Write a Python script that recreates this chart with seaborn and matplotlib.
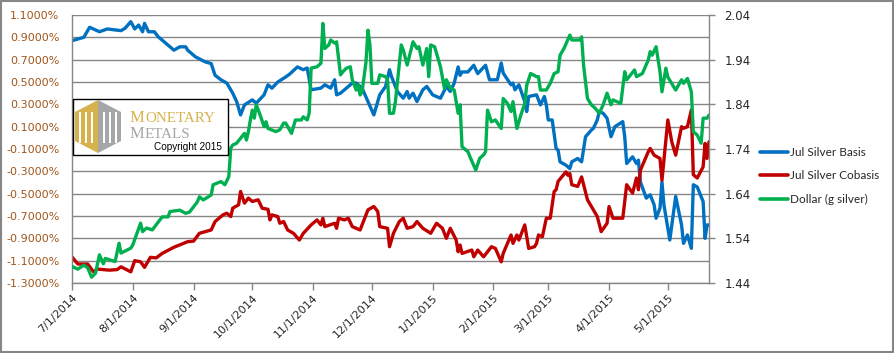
import numpy as np
import pandas as pd
import matplotlib
matplotlib.use("Agg")
import matplotlib.pyplot as plt
import matplotlib.dates as mdates
from matplotlib.ticker import FuncFormatter
from matplotlib.patches import Polygon, Rectangle
from matplotlib.lines import Line2D
import seaborn as sns

# ── Data (days counted from 7/1/2014) ───────────────────────────
START = pd.Timestamp("2014-07-01")
END = pd.Timestamp("2015-05-22")

basis_day = [0, 6, 9, 14, 18, 25, 27, 30, 32, 34, 36, 37, 39, 42, 44, 48, 52, 55, 58, 59,
             63, 68, 71, 73, 76, 79, 82, 84, 86, 88, 92, 94, 98, 100, 102, 105, 109, 111, 115, 118,
             120, 122, 127, 129, 132, 134, 135, 137, 140, 143, 145, 148, 151, 154, 157, 160, 162, 163, 166, 169,
             171, 172, 174, 176, 179, 181, 184, 188, 191, 193, 195, 197, 198, 199, 202, 205, 207, 211, 213, 217,
             219, 220, 224, 225, 226, 228, 231, 232, 233, 237, 239, 241, 242, 243, 245, 247, 248, 249, 252, 254,
             255, 258, 260, 262, 265, 266, 268, 269, 271, 273, 275, 277, 281, 282, 283, 286, 288, 289, 290, 293,
             295, 297, 298, 300, 301, 302, 305, 308, 311, 312, 314, 316, 317, 319, 322, 323, 324, 325]
basis_val = [0.87, 0.90, 0.99, 0.95, 0.975, 0.96, 0.98, 1.04, 0.975, 1.01, 0.95, 1.025, 0.95, 0.95, 0.905, 0.845, 0.785, 0.815, 0.815, 0.785,
             0.725, 0.68, 0.665, 0.56, 0.52, 0.49, 0.40, 0.325, 0.205, 0.295, 0.34, 0.31, 0.385, 0.475, 0.445, 0.50, 0.545, 0.57, 0.635, 0.61,
             0.625, 0.43, 0.445, 0.475, 0.445, 0.52, 0.385, 0.40, 0.445, 0.49, 0.49, 0.445, 0.325, 0.205, 0.385, 0.46, 0.61, 0.55, 0.415, 0.355,
             0.415, 0.355, 0.40, 0.325, 0.43, 0.46, 0.385, 0.355, 0.46, 0.415, 0.49, 0.635, 0.56, 0.59, 0.59, 0.65, 0.575, 0.65, 0.52, 0.52,
             0.67, 0.58, 0.475, 0.49, 0.43, 0.475, 0.325, 0.235, 0.37, 0.385, 0.295, 0.37, 0.295, 0.16, 0.16, -0.095, -0.11, -0.215, -0.245, -0.275,
             -0.215, -0.185, -0.215, 0.01, 0.07, 0.085, 0.16, 0.235, 0.22, 0.175, 0.01, 0.10, 0.145, 0.01, -0.23, -0.17, -0.23, -0.20, -0.395, -0.54,
             -0.51, -0.60, -0.72, -0.63, -0.395, -0.60, -0.915, -0.525, -0.78, -0.945, -0.87, -0.99, -0.42, -0.44, -0.57, -0.90, -0.78, -0.78]

cobasis_day = [0, 3, 8, 11, 13, 19, 23, 25, 30, 32, 35, 37, 40, 43, 46, 52, 57, 59, 62, 65,
               68, 71, 73, 77, 79, 81, 82, 85, 86, 88, 90, 92, 95, 97, 100, 101, 102, 105, 106, 108,
               110, 113, 116, 118, 122, 125, 127, 128, 129, 134, 135, 136, 139, 141, 143, 147, 149, 151, 154, 156,
               157, 161, 162, 164, 167, 169, 171, 174, 176, 179, 183, 186, 189, 191, 193, 196, 197, 198, 199, 204,
               205, 207, 210, 214, 216, 219, 220, 224, 225, 227, 228, 231, 233, 236, 237, 238, 240, 242, 244, 246,
               247, 248, 252, 253, 254, 255, 258, 260, 263, 266, 268, 270, 273, 274, 276, 281, 283, 286, 288, 289,
               290, 294, 295, 297, 300, 301, 304, 306, 308, 311, 312, 314, 316, 317, 319, 322, 323, 324, 325]
cobasis_val = [-1.067, -1.13, -1.13, -1.20, -1.175, -1.185, -1.18, -1.155, -1.20, -1.10,
               -1.11, -1.16, -1.07, -1.075, -1.035, -0.98, -0.945, -0.93, -0.925, -0.855,
               -0.84, -0.825, -0.75, -0.69, -0.675, -0.705, -0.63, -0.60, -0.48, -0.585,
               -0.54, -0.57, -0.555, -0.63, -0.64, -0.735, -0.69, -0.705, -0.765, -0.75,
               -0.825, -0.855, -0.915, -0.855, -0.78, -0.735, -0.78, -0.72, -0.795, -0.765,
               -0.81, -0.72, -0.735, -0.72, -0.795, -0.825, -0.735, -0.645, -0.615, -0.66,
               -0.795, -0.81, -0.975, -0.855, -0.75, -0.72, -0.81, -0.795, -0.75, -0.81,
               -0.855, -0.765, -0.81, -0.90, -0.81, -0.915, -1.02, -0.96, -1.035, -1.005,
               -1.065, -1.005, -1.065, -0.975, -0.99, -1.11, -1.035, -0.87, -0.945, -0.87,
               -0.915, -0.78, -0.99, -0.975, -0.945, -0.87, -0.885, -0.72, -0.72, -0.48,
               -0.465, -0.39, -0.305, -0.335, -0.32, -0.42, -0.435, -0.35, -0.555, -0.645,
               -0.705, -0.84, -0.765, -0.615, -0.72, -0.72, -0.42, -0.495, -0.36, -0.465,
               -0.29, -0.125, -0.095, -0.155, -0.185, -0.38, 0.16, -0.035, -0.155, 0.10,
               0.085, 0.10, 0.25, -0.33, -0.36, -0.26, -0.05, -0.185, -0.035]

dollar_day = [0, 3, 6, 8, 10, 12, 14, 16, 17, 22, 24, 25, 30, 31, 35, 36, 38, 41, 46, 49,
              50, 55, 58, 60, 64, 65, 67, 71, 72, 76, 78, 80, 81, 82, 84, 86, 88, 89, 90, 91,
              92, 93, 94, 96, 98, 99, 100, 104, 106, 108, 109, 112, 114, 117, 118, 120, 121, 122, 125, 127,
              128, 129, 131, 132, 134, 135, 137, 138, 140, 142, 143, 145, 146, 147, 148, 150, 151, 152, 153, 156,
              157, 160, 161, 162, 164, 165, 168, 169, 171, 174, 176, 177, 179, 181, 182, 183, 185, 188, 190, 191,
              193, 195, 197, 198, 199, 202, 203, 206, 208, 210, 211, 212, 214, 216, 219, 220, 222, 224, 225, 227,
              229, 231, 232, 234, 237, 238, 239, 242, 244, 246, 248, 249, 251, 254, 255, 259, 260, 261, 263, 265,
              267, 269, 271, 273, 275, 276, 280, 282, 283, 287, 288, 291, 294, 295, 296, 298, 300, 301, 303, 304,
              308, 311, 312, 314, 316, 317, 319, 321, 322, 324, 325]
dollar_val = [1.477, 1.471, 1.48, 1.474, 1.453, 1.462, 1.503, 1.483, 1.495, 1.488,
              1.529, 1.507, 1.518, 1.525, 1.574, 1.555, 1.563, 1.559, 1.588, 1.588,
              1.60, 1.603, 1.596, 1.599, 1.622, 1.633, 1.626, 1.637, 1.66, 1.667,
              1.66, 1.678, 1.742, 1.749, 1.753, 1.764, 1.775, 1.76, 1.779, 1.805,
              1.827, 1.809, 1.839, 1.816, 1.79, 1.801, 1.786, 1.779, 1.783, 1.798,
              1.798, 1.775, 1.805, 1.805, 1.812, 1.805, 1.82, 1.921, 1.924, 1.932,
              2.021, 1.965, 1.973, 1.984, 1.977, 1.98, 1.906, 1.912, 1.921, 1.924,
              1.895, 1.872, 1.883, 1.861, 1.868, 1.935, 2.006, 1.973, 1.887, 1.887,
              1.906, 1.902, 1.895, 1.82, 1.82, 1.846, 1.973, 1.962, 1.928, 1.98,
              1.965, 1.969, 1.928, 1.965, 1.902, 1.973, 1.969, 1.924, 1.876, 1.895,
              1.876, 1.872, 1.82, 1.839, 1.745, 1.734, 1.723, 1.693, 1.719, 1.727,
              1.734, 1.827, 1.801, 1.805, 1.786, 1.853, 1.843, 1.824, 1.846, 1.786,
              1.816, 1.842, 1.883, 1.909, 1.902, 1.902, 1.872, 1.872, 1.887, 1.909,
              1.913, 1.95, 1.965, 1.995, 1.984, 1.984, 1.991, 1.928, 1.853, 1.839,
              1.831, 1.82, 1.839, 1.865, 1.839, 1.85, 1.842, 1.913, 1.895, 1.917,
              1.902, 1.909, 1.939, 1.958, 1.95, 1.969, 1.913, 1.868, 1.921, 1.901,
              1.872, 1.895, 1.887, 1.898, 1.868, 1.779, 1.771, 1.753, 1.809, 1.809,
              1.816]

left_ticks = [-1.3, -1.1, -0.9, -0.7, -0.5, -0.3, -0.1, 0.1, 0.3, 0.5, 0.7, 0.9, 1.1]
right_ticks = [1.44, 1.54, 1.64, 1.74, 1.84, 1.94, 2.04]
labels = ["Jul Silver Basis", "Jul Silver Cobasis", "Dollar (g silver)"]
colors = ["#0070C0", "#C00000", "#00B050"]

GRID = "#868686"


def frame(days, vals):
    return pd.DataFrame({"date": START + pd.to_timedelta(days, unit="D"), "value": vals})


sns.set_style("white")
plt.rcParams["font.family"] = ["DejaVu Sans"]

W, H = 894, 353
fig = plt.figure(figsize=(W / 100, H / 100), dpi=100)
ax = fig.add_axes([72 / W, 1 - 283 / H, (709 - 72) / W, (283 - 15) / H])
ax2 = ax.twinx()

lw = 2.4
sns.lineplot(data=frame(basis_day, basis_val), x="date", y="value", ax=ax,
             color=colors[0], lw=lw, estimator=None, sort=False, legend=False)
sns.lineplot(data=frame(cobasis_day, cobasis_val), x="date", y="value", ax=ax,
             color=colors[1], lw=lw, estimator=None, sort=False, legend=False)
sns.lineplot(data=frame(dollar_day, dollar_val), x="date", y="value", ax=ax2,
             color=colors[2], lw=lw, estimator=None, sort=False, legend=False)

# left axis
ax.set_ylim(-1.3, 1.1)
ax.set_yticks(left_ticks)
ax.yaxis.set_major_formatter(FuncFormatter(lambda v, _: f"{v:.4f}%"))
ax.tick_params(axis="y", length=0, pad=9, labelsize=8, labelcolor="#a0561c")
ax.grid(axis="y", color=GRID, lw=1)
ax.grid(axis="x", visible=False)
ax.set_xlabel("")
ax.set_ylabel("")

# x axis
ax.set_xlim(START, END)
ax.xaxis.set_major_locator(mdates.MonthLocator())
ax.xaxis.set_major_formatter(mdates.DateFormatter("%-m/%-d/%Y"))
ax.tick_params(axis="x", length=5, direction="out", color=GRID, width=1,
               pad=2, labelsize=8, bottom=True)
for t in ax.get_xticklabels():
    t.set_rotation(45)
    t.set_ha("right")
    t.set_rotation_mode("anchor")

# right axis
ax2.set_ylim(1.44, 2.04)
ax2.set_yticks(right_ticks)
ax2.yaxis.set_major_formatter(FuncFormatter(lambda v, _: f"{v:.2f}"))
ax2.tick_params(axis="y", length=4, direction="out", color=GRID, width=1,
                pad=7, labelsize=8.5, right=True)
ax2.set_ylabel("")
ax2.grid(False)

for a in (ax, ax2):
    for s in a.spines.values():
        s.set_visible(False)
ax.spines["left"].set_visible(True)
ax.spines["bottom"].set_visible(True)
ax2.spines["right"].set_visible(True)
for s in (ax.spines["left"], ax.spines["bottom"], ax2.spines["right"]):
    s.set_color(GRID)
    s.set_linewidth(1)

# legend
handles = [Line2D([], [], color=c, lw=2.6) for c in colors]
fig.legend(handles, labels, loc="center left", bbox_to_anchor=(754 / W, 1 - 176 / H),
           frameon=False, prop={"family": "Lato", "size": 8.5}, handlelength=2.4,
           handletextpad=0.15, labelspacing=1.05, borderpad=0)

# overlay in pixel coordinates: logo and outer frame
ov = fig.add_axes([0, 0, 1, 1], zorder=10)
ov.set_xlim(0, W)
ov.set_ylim(H, 0)
ov.axis("off")
ov.patch.set_alpha(0)
ov.add_patch(Rectangle((0.75, 0.75), W - 1.5, H - 1.5, fill=False, ec=GRID, lw=1.5))

ov.add_patch(Rectangle((72.5, 98.5), 155, 56, fc="white", ec="black", lw=1))
gold, grey = "#d6b24c", "#a6a6a6"
ov.add_patch(Polygon([(75, 112), (98, 100), (98, 153), (75, 141)], closed=True, fc=gold, ec="none"))
ov.add_patch(Polygon([(98, 100), (121, 112), (121, 141), (98, 153)], closed=True, fc=grey, ec="none"))
for bx in (78.5, 84.5, 90.5, 103, 109, 115):
    ov.add_patch(Rectangle((bx, 112), 2.2, 31, fc="white", ec="none"))
ov.text(130, 122.5, "M", family="Liberation Serif", fontsize=12, color=gold, va="baseline")
ov.text(145, 122.5, "ONETARY", family="Liberation Serif", fontsize=10.8, color=gold, va="baseline")
ov.text(130, 138.5, "M", family="Liberation Serif", fontsize=12, color=grey, va="baseline")
ov.text(145, 138.5, "ETALS", family="Liberation Serif", fontsize=10.8, color=grey, va="baseline")
ov.text(222, 147, "Copyright 2015", family="Liberation Sans", fontsize=7.2,
        color="black", ha="right", va="center")

fig.savefig("out.png", dpi=100)
